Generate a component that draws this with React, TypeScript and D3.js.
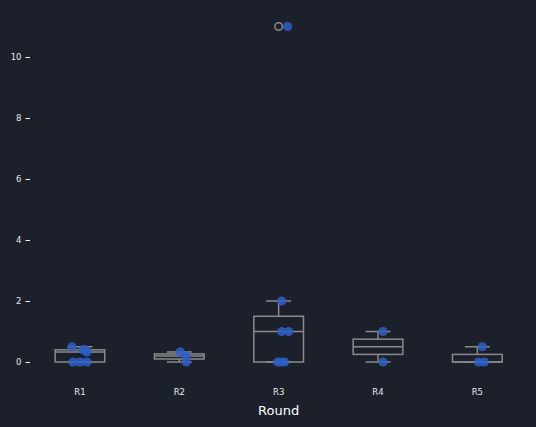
import { axisLeft, quantile, scaleLinear, scalePoint, select } from "d3";
import { useEffect, useRef } from "react";

const rounds = ["R1", "R2", "R3", "R4", "R5"];
const r1 = [0, 0, 0, 0.33, 0.4, 0.4, 0.5];
const r2 = [0, 0.2, 0.33];
const r3 = [0, 0, 0, 1, 1, 2, 11];
const r4 = [0, 1];
const r5 = [0, 0, 0.5];
// stripplot jitter, in category units
const j1 = [-0.07, 0, 0.07, 0.07, 0.05, 0.03, -0.08];
const j2 = [0.07, 0.07, 0.01];
const j3 = [-0.01, 0.02, 0.06, 0.03, 0.1, 0.03, 0.09];
const j4 = [0.05, 0.05];
const j5 = [0.01, 0.07, 0.05];
const yTicks = [0, 2, 4, 6, 8, 10];

const values = [r1, r2, r3, r4, r5];
const jitters = [j1, j2, j3, j4, j5];

const W = 536;
const H = 427;
const BG = "#1b202b";
const GREY = "#8a8a8a";
const BLUE = "#2e5fc6";

function boxStats(arr) {
  const s = [...arr].sort((a, b) => a - b);
  const q1 = quantile(s, 0.25);
  const med = quantile(s, 0.5);
  const q3 = quantile(s, 0.75);
  const iqr = q3 - q1;
  const inside = s.filter((v) => v >= q1 - 1.5 * iqr && v <= q3 + 1.5 * iqr);
  return {
    q1,
    med,
    q3,
    lo: inside[0],
    hi: inside[inside.length - 1],
    out: s.filter((v) => v < q1 - 1.5 * iqr || v > q3 + 1.5 * iqr),
  };
}

export default function App() {
  const svgRef = useRef(null);

  useEffect(() => {
    const svg = select(svgRef.current);
    svg.selectAll("*").remove();

    const x = scalePoint().domain(rounds).range([30.3, 527]).padding(0.5);
    const y = scaleLinear().domain([-0.55, 11.55]).range([378.8, 9.7]);
    const step = x.step();
    const boxW = step * 0.5;

    svg.append("rect").attr("width", W).attr("height", H).attr("fill", BG);

    const yAxis = axisLeft(y).tickValues(yTicks).tickSize(4.5).tickPadding(4);
    const ya = svg.append("g").attr("transform", "translate(30,0)").call(yAxis);
    ya.select(".domain").remove();
    ya.selectAll("line").attr("stroke", "#ffffff").attr("stroke-width", 1);
    ya.selectAll("text")
      .attr("fill", "#e8e8e8")
      .style("font-family", "DejaVu Sans")
      .style("font-size", "8.5px");

    rounds.forEach((r, i) => {
      const st = boxStats(values[i]);
      const cx = x(r);
      const g = svg.append("g");

      // whiskers
      g.append("line")
        .attr("x1", cx).attr("x2", cx)
        .attr("y1", y(st.q3)).attr("y2", y(st.hi))
        .attr("stroke", GREY).attr("stroke-width", 1.5);
      g.append("line")
        .attr("x1", cx).attr("x2", cx)
        .attr("y1", y(st.q1)).attr("y2", y(st.lo))
        .attr("stroke", GREY).attr("stroke-width", 1.5);
      [st.lo, st.hi].forEach((v) => {
        g.append("line")
          .attr("x1", cx - boxW / 4).attr("x2", cx + boxW / 4)
          .attr("y1", y(v)).attr("y2", y(v))
          .attr("stroke", GREY).attr("stroke-width", 1.5);
      });

      g.append("rect")
        .attr("x", cx - boxW / 2)
        .attr("y", y(st.q3))
        .attr("width", boxW)
        .attr("height", Math.max(0, y(st.q1) - y(st.q3)))
        .attr("fill", "none")
        .attr("stroke", GREY)
        .attr("stroke-width", 1.5);
      g.append("line")
        .attr("x1", cx - boxW / 2).attr("x2", cx + boxW / 2)
        .attr("y1", y(st.med)).attr("y2", y(st.med))
        .attr("stroke", GREY).attr("stroke-width", 1.5);

      g.selectAll(".flier")
        .data(st.out)
        .join("circle")
        .attr("class", "flier")
        .attr("cx", cx)
        .attr("cy", (d) => y(d))
        .attr("r", 3.8)
        .attr("fill", "none")
        .attr("stroke", GREY)
        .attr("stroke-width", 1.5);

      g.selectAll(".dot")
        .data(values[i])
        .join("circle")
        .attr("class", "dot")
        .attr("cx", (_, k) => cx + jitters[i][k] * step)
        .attr("cy", (d) => y(d))
        .attr("r", 4.6)
        .attr("fill", BLUE)
        .attr("fill-opacity", 0.85);

      svg.append("text")
        .attr("x", cx)
        .attr("y", 395)
        .attr("text-anchor", "middle")
        .attr("fill", "#e8e8e8")
        .style("font-family", "DejaVu Sans")
        .style("font-size", "8.5px")
        .text(r);
    });

    svg.append("text")
      .attr("x", x("R3"))
      .attr("y", 415)
      .attr("text-anchor", "middle")
      .attr("fill", "#ffffff")
      .style("font-family", "DejaVu Sans")
      .style("font-size", "13px")
      .text("Round");
  }, []);

  return (
    <svg
      ref={svgRef}
      width={W}
      height={H}
      style={{ position: "absolute", left: 0, top: 0 }}
    />
  );
}
